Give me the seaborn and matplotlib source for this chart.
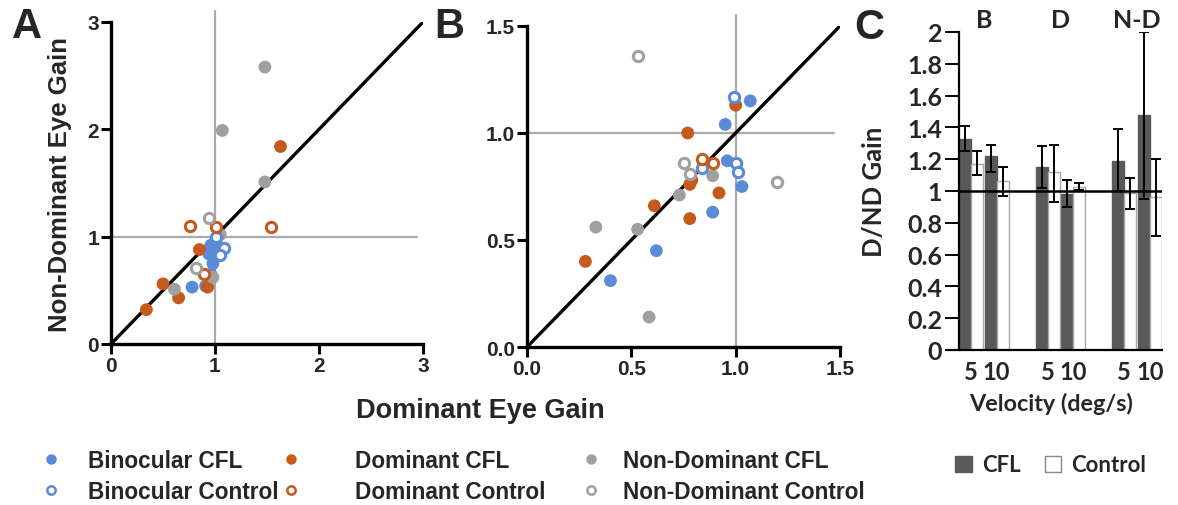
import numpy as np
import pandas as pd
import matplotlib
matplotlib.use("Agg")
import matplotlib.pyplot as plt
from matplotlib.lines import Line2D
from matplotlib.patches import Patch
from matplotlib.transforms import blended_transform_factory
import seaborn as sns

# ---------------- data ----------------
groups = ["Binocular CFL", "Binocular Control", "Dominant CFL",
          "Dominant Control", "Non-Dominant CFL", "Non-Dominant Control"]

# Panel A  x = dominant eye gain, y = non-dominant eye gain
a_bin_cfl_x = [0.78, 0.91, 0.96, 0.98, 0.94, 1.02, 1.05, 0.96, 1.01]
a_bin_cfl_y = [0.53, 0.54, 0.65, 0.75, 0.84, 0.86, 0.89, 0.92, 0.95]
a_bin_ctl_x = [1.09, 1.05, 1.01]
a_bin_ctl_y = [0.89, 0.83, 1.00]
a_dom_cfl_x = [0.34, 0.50, 0.65, 0.85, 0.93, 1.63]
a_dom_cfl_y = [0.32, 0.56, 0.43, 0.88, 0.53, 1.84]
a_dom_ctl_x = [0.76, 1.01, 1.54, 0.89]
a_dom_ctl_y = [1.10, 1.09, 1.09, 0.65]
a_nd_cfl_x = [1.48, 1.07, 1.48, 1.05, 0.61, 0.98]
a_nd_cfl_y = [2.58, 1.99, 1.51, 1.02, 0.51, 0.62]
a_nd_ctl_x = [0.94, 0.82]
a_nd_ctl_y = [1.17, 0.71]

# Panel B
b_bin_cfl_x = [1.07, 0.95, 0.96, 1.03, 0.89, 0.62, 0.40]
b_bin_cfl_y = [1.15, 1.04, 0.87, 0.75, 0.63, 0.45, 0.31]
b_bin_ctl_x = [0.99, 0.84, 1.00, 1.01]
b_bin_ctl_y = [1.17, 0.835, 0.86, 0.82]
b_dom_cfl_x = [1.00, 0.77, 0.79, 0.78, 0.92, 0.61, 0.78, 0.28]
b_dom_cfl_y = [1.13, 1.00, 0.78, 0.76, 0.72, 0.66, 0.60, 0.40]
b_dom_ctl_x = [0.84, 0.89]
b_dom_ctl_y = [0.88, 0.86]
b_nd_cfl_x = [0.89, 0.73, 0.33, 0.53, 0.585]
b_nd_cfl_y = [0.80, 0.71, 0.56, 0.55, 0.14]
b_nd_ctl_x = [0.534, 0.75, 0.78, 1.20]
b_nd_ctl_y = [1.36, 0.86, 0.81, 0.77]

# Panel C
c_condition = ["B", "B", "D", "D", "N-D", "N-D"]
c_velocity = ["5", "10", "5", "10", "5", "10"]
c_cfl_mean = [1.33, 1.22, 1.15, 0.98, 1.19, 1.48]
c_cfl_lo = [1.25, 1.12, 1.02, 0.90, 1.00, 0.95]
c_cfl_hi = [1.41, 1.29, 1.28, 1.07, 1.39, 2.00]
c_ctl_mean = [1.17, 1.06, 1.12, 1.025, 0.99, 0.96]
c_ctl_lo = [1.10, 0.97, 0.93, 1.005, 0.885, 0.72]
c_ctl_hi = [1.25, 1.15, 1.29, 1.05, 1.08, 1.20]

# ---------------- style ----------------
blue = "#5b8ad6"
orange = "#c55a1c"
gray = "#a0a0a0"
colors = {"Binocular": blue, "Dominant": orange, "Non-Dominant": gray}

sns.set_theme(style="white")
plt.rcParams["font.family"] = ["Liberation Sans", "DejaVu Sans"]
plt.rcParams["font.weight"] = "bold"

W, H = 1178, 506
fig = plt.figure(figsize=(W / 100, H / 100), dpi=100)


def px_axes(l, t, r, b):
    return fig.add_axes([l / W, 1 - b / H, (r - l) / W, (b - t) / H])


def scatter_panel(ax, sets, lim, ticks, ticklabels):
    for (name, xs, ys) in sets:
        eye, kind = name.rsplit(" ", 1)
        col = colors[eye]
        df = pd.DataFrame({"x": xs, "y": ys})
        if kind == "CFL":
            sns.scatterplot(data=df, x="x", y="y", color=col, s=85,
                            edgecolor="none", ax=ax, zorder=3, legend=False)
        else:
            sns.scatterplot(data=df, x="x", y="y", color=col, s=55,
                            facecolor="white", edgecolor=col, linewidth=2.2,
                            ax=ax, zorder=4, legend=False)
    ax.axvline(1, ymin=0, ymax=1.035, color="#aaaaaa", lw=1.6, zorder=1, clip_on=False)
    ax.axhline(1, xmin=0, xmax=0.98, color="#aaaaaa", lw=1.6, zorder=1)
    ax.axline((0, 0), slope=1, color="black", lw=2.4, zorder=2)
    ax.set_xlim(0, lim)
    ax.set_ylim(0, lim)
    ax.set_xticks(ticks)
    ax.set_yticks(ticks)
    ax.set_xticklabels(ticklabels, fontsize=15, fontweight="bold")
    ax.set_yticklabels(ticklabels, fontsize=15, fontweight="bold")
    ax.set_xlabel("")
    ax.set_ylabel("")
    sns.despine(ax=ax)
    for s in ("left", "bottom"):
        ax.spines[s].set_linewidth(2.4)
        ax.spines[s].set_color("black")
    ax.tick_params(direction="out", length=7, width=2.2, color="black",
                   pad=1.5, left=True, bottom=True)


axA = px_axes(111, 23, 423, 345)
scatter_panel(axA, [
    ("Binocular CFL", a_bin_cfl_x, a_bin_cfl_y),
    ("Binocular Control", a_bin_ctl_x, a_bin_ctl_y),
    ("Dominant CFL", a_dom_cfl_x, a_dom_cfl_y),
    ("Dominant Control", a_dom_ctl_x, a_dom_ctl_y),
    ("Non-Dominant CFL", a_nd_cfl_x, a_nd_cfl_y),
    ("Non-Dominant Control", a_nd_ctl_x, a_nd_ctl_y),
], 3, [0, 1, 2, 3], ["0", "1", "2", "3"])

axB = px_axes(527, 27, 840, 348)
scatter_panel(axB, [
    ("Binocular CFL", b_bin_cfl_x, b_bin_cfl_y),
    ("Binocular Control", b_bin_ctl_x, b_bin_ctl_y),
    ("Dominant CFL", b_dom_cfl_x, b_dom_cfl_y),
    ("Dominant Control", b_dom_ctl_x, b_dom_ctl_y),
    ("Non-Dominant CFL", b_nd_cfl_x, b_nd_cfl_y),
    ("Non-Dominant Control", b_nd_ctl_x, b_nd_ctl_y),
], 1.5, [0, 0.5, 1.0, 1.5], ["0.0", "0.5", "1.0", "1.5"])

fig.text(60 / W, 1 - 185 / H, "Non-Dominant Eye Gain", rotation=90,
         ha="center", va="center", fontsize=18.5, fontweight="bold")
fig.text(480 / W, 1 - 411 / H, "Dominant Eye Gain", ha="center", va="center",
         fontsize=19.5, fontweight="bold")
fig.text(27 / W, 1 - 27 / H, "A", ha="center", va="center", fontsize=30, fontweight="bold")
fig.text(449 / W, 1 - 27 / H, "B", ha="center", va="center", fontsize=30, fontweight="bold")
fig.text(869 / W, 1 - 28 / H, "C", ha="center", va="center", fontsize=30, fontweight="bold")


# scatter legend (three columns of two entries)
def leg_handle(name):
    eye, kind = name.rsplit(" ", 1)
    col = colors[eye]
    if kind == "CFL":
        return Line2D([], [], ls="none", marker="o", markersize=7.5,
                      markerfacecolor=col, markeredgecolor="none")
    return Line2D([], [], ls="none", marker="o", markersize=6,
                  markerfacecolor="white", markeredgecolor=col, markeredgewidth=1.8)


col_x = [40, 280, 580]
pads = [1.1, 2.3, 0.9]
for ci in range(3):
    names = groups[2 * ci:2 * ci + 2]
    fig.legend([leg_handle(n) for n in names], names,
               loc="upper left", bbox_to_anchor=(col_x[ci] / W, 1 - 450 / H),
               frameon=False, handlelength=1.0,
               handletextpad=pads[ci], labelspacing=0.35,
               borderaxespad=0, borderpad=0,
               prop={"size": 16.3, "weight": "bold"})

# ---------------- panel C ----------------
axC = px_axes(959, 33, 1162, 351)
c_keys = [c + v for c, v in zip(c_condition, c_velocity)]
order = []
for i, k in enumerate(c_keys):
    if i > 0 and c_condition[i] != c_condition[i - 1]:
        order.append("gap" + str(i))
    order.append(k)

dfc = pd.DataFrame({
    "key": c_keys * 2,
    "gain": c_cfl_mean + c_ctl_mean,
    "lo": c_cfl_lo + c_ctl_lo,
    "hi": c_cfl_hi + c_ctl_hi,
    "group": ["CFL"] * 6 + ["Control"] * 6,
})
cfl_col = "#595959"
sns.barplot(data=dfc, x="key", y="gain", hue="group", order=order,
            hue_order=["CFL", "Control"],
            palette={"CFL": cfl_col, "Control": "white"},
            width=0.95, errorbar=None, legend=False, ax=axC, linewidth=1.0)

for gi, cont in enumerate(axC.containers[:2]):
    grp = ["CFL", "Control"][gi]
    sub = dfc[dfc.group == grp].set_index("key")
    xs, ys, lo, hi = [], [], [], []
    for bar in cont:
        bar.set_edgecolor(cfl_col if grp == "CFL" else "#a8a8a8")
        cx = bar.get_x() + bar.get_width() / 2
        key = order[int(round(cx))]
        xs.append(cx)
        ys.append(sub.loc[key, "gain"])
        lo.append(sub.loc[key, "gain"] - sub.loc[key, "lo"])
        hi.append(sub.loc[key, "hi"] - sub.loc[key, "gain"])
    axC.errorbar(xs, ys, yerr=[lo, hi], fmt="none", ecolor="black",
                 elinewidth=1.4, capsize=3.5, capthick=1.4, zorder=5)

axC.axhline(1, color="black", lw=1.8, zorder=6)
axC.set_ylim(0, 2)
axC.set_xlim(-0.475, len(order) - 1 + 0.475)
yt = np.round(np.arange(0, 2.01, 0.2), 1)
axC.set_yticks(yt)
cfont = ["Lato", "DejaVu Sans"]
axC.set_yticklabels([f"{v:g}" for v in yt], fontsize=18, fontweight="bold", family=cfont)
tick_pos = [order.index(k) for k in c_keys]
axC.set_xticks(tick_pos)
axC.set_xticklabels(c_velocity, fontsize=17, fontweight="bold", family=cfont)
axC.set_xlabel("")
axC.set_ylabel("")
sns.despine(ax=axC)
axC.spines["left"].set_linewidth(1.6)
axC.spines["bottom"].set_linewidth(1.6)
axC.spines["left"].set_color("black")
axC.spines["bottom"].set_color("black")
axC.spines["bottom"].set_bounds(-0.9, len(order) - 1 + 0.475)
axC.tick_params(axis="y", direction="out", length=10, width=1.4, color="black", pad=2, left=True)
axC.tick_params(axis="x", length=0, pad=7)

trans = blended_transform_factory(axC.transData, axC.transAxes)
for cond in ["B", "D", "N-D"]:
    pos = [order.index(k) for k, c in zip(c_keys, c_condition) if c == cond]
    axC.text(np.mean(pos), 1.04, cond, transform=trans, ha="center", va="center",
             fontsize=18, fontweight="bold", family=cfont)

fig.text(874 / W, 1 - 192 / H, "D/ND Gain", rotation=90, ha="center", va="center",
         fontsize=18.5, fontweight="bold", family=cfont)
fig.text(1051 / W, 1 - 404 / H, "Velocity (deg/s)", ha="center", va="center",
         fontsize=16.8, fontweight="bold", family=cfont)

fig.legend([Patch(facecolor=cfl_col, edgecolor=cfl_col),
            Patch(facecolor="white", edgecolor="#888888")],
           ["CFL", "Control"], ncol=2, loc="center left",
           bbox_to_anchor=(955 / W, 1 - 466 / H), frameon=False,
           handlelength=0.75, handleheight=0.75, handletextpad=0.45, columnspacing=1.1,
           borderaxespad=0, borderpad=0,
           prop={"size": 16, "weight": "bold", "family": cfont})

fig.savefig("out.png", dpi=100)
